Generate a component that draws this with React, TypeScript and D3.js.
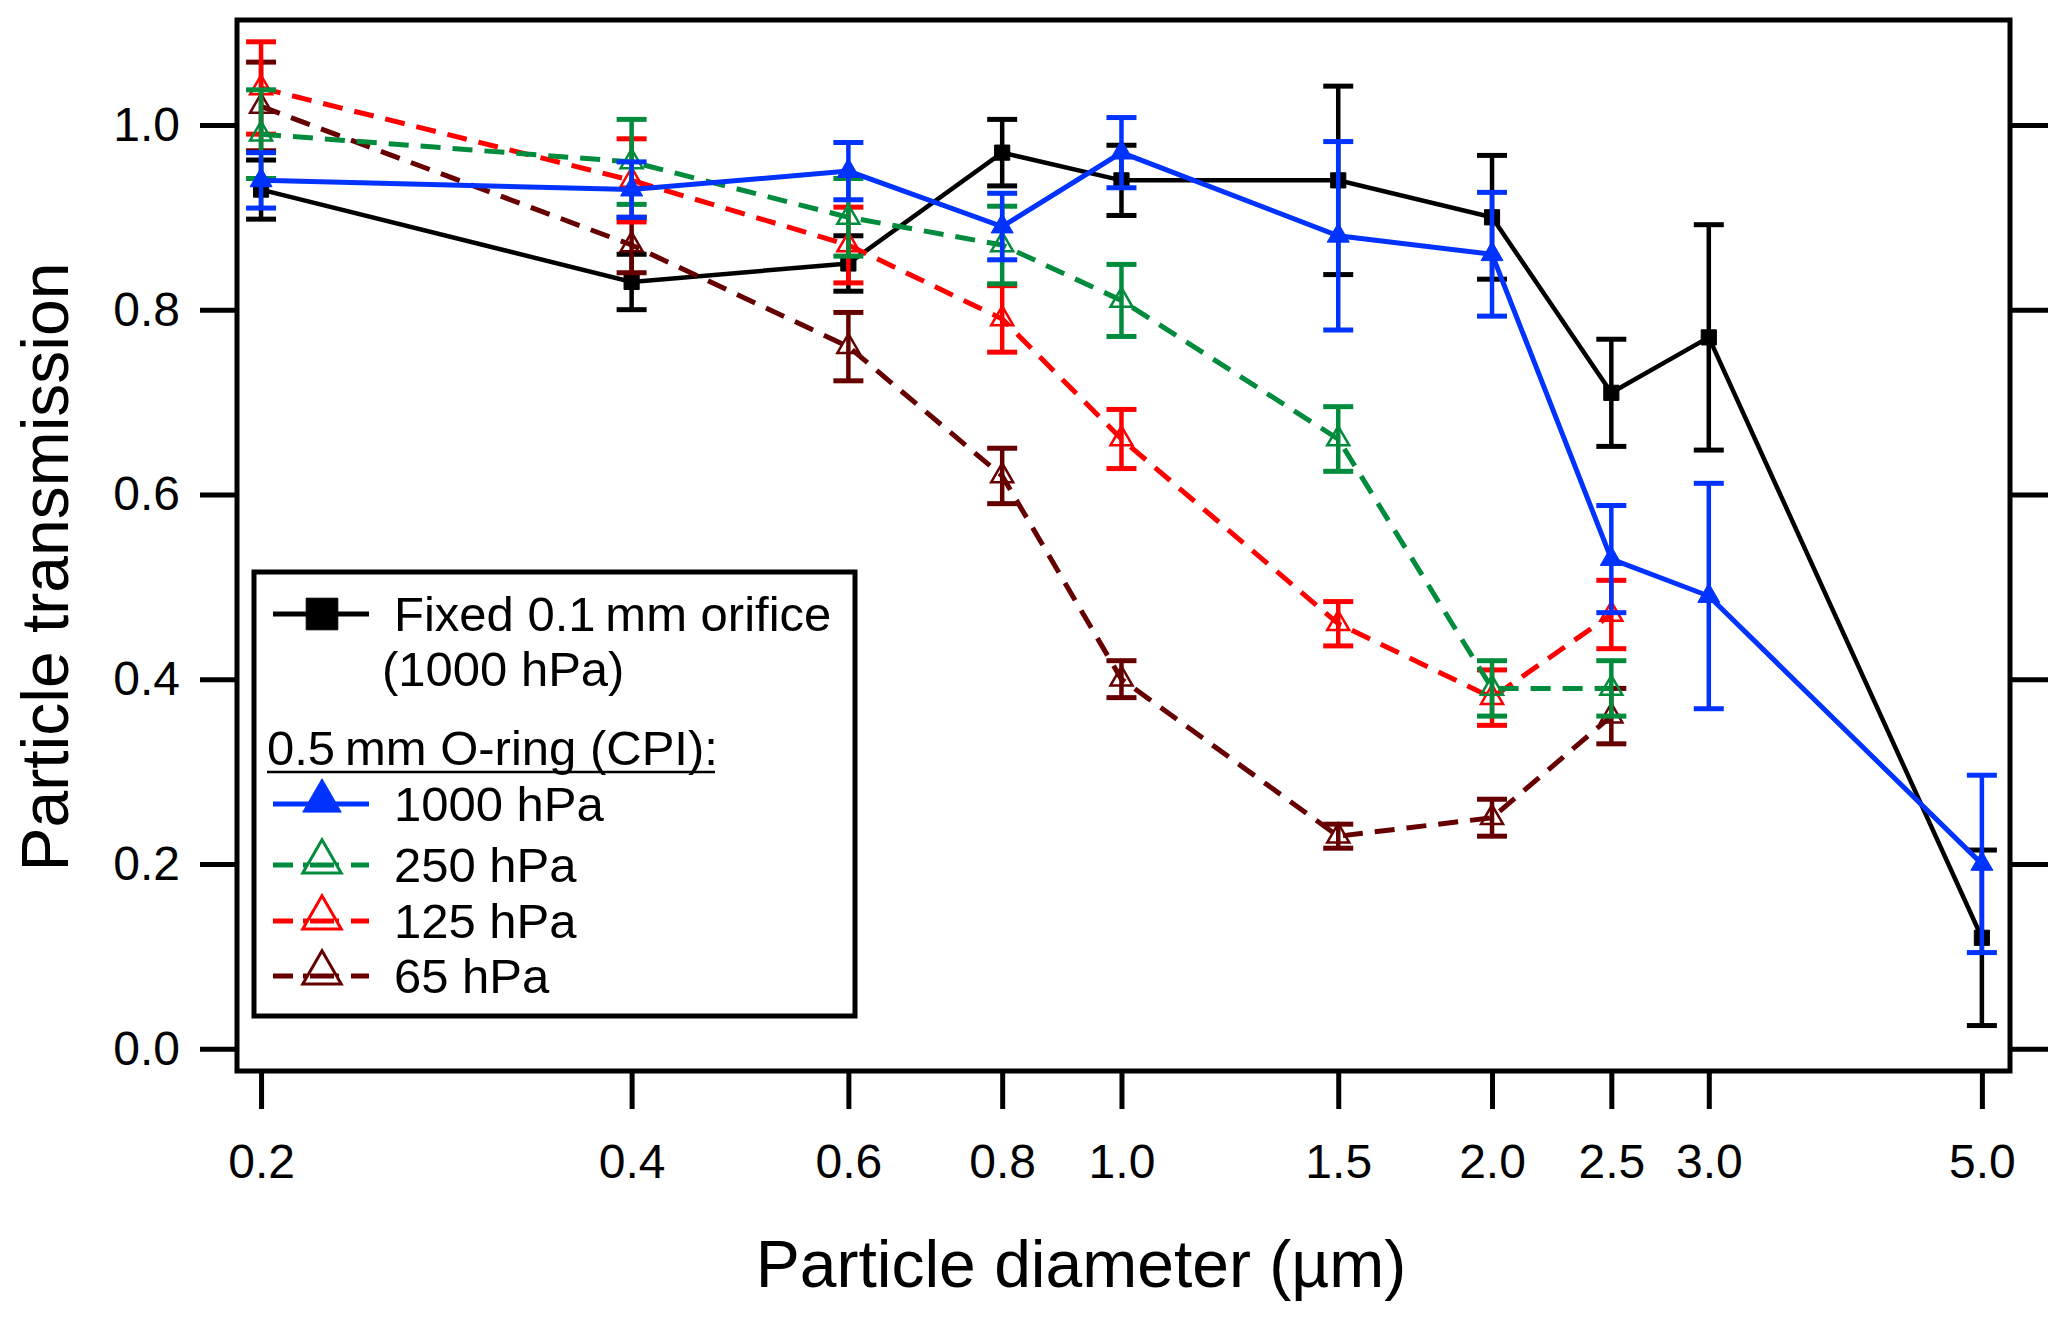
import React, { useEffect, useRef } from "react";
import * as d3 from "d3";

// particle diameters (µm)
const diam = [0.2, 0.4, 0.6, 0.8, 1.0, 1.5, 2.0, 2.5, 3.0, 5.0];
const diamCPI = [0.2, 0.4, 0.6, 0.8, 1.0, 1.5, 2.0, 2.5];

// fixed 0.1 mm orifice (1000 hPa)
const fixedVal = [0.93, 0.83, 0.85, 0.97, 0.94, 0.94, 0.9, 0.71, 0.77, 0.12];
const fixedErr = [0.032, 0.03, 0.03, 0.036, 0.038, 0.102, 0.067, 0.058, 0.122, 0.095];

// 0.5 mm O-ring (CPI)
const p1000Val = [0.94, 0.93, 0.95, 0.89, 0.97, 0.88, 0.86, 0.53, 0.49, 0.2];
const p1000Err = [0.03, 0.03, 0.031, 0.036, 0.038, 0.102, 0.067, 0.058, 0.122, 0.096];
const p250Val = [0.99, 0.96, 0.9, 0.87, 0.81, 0.66, 0.39, 0.39];
const p250Err = [0.048, 0.046, 0.042, 0.042, 0.039, 0.035, 0.03, 0.03];
const p125Val = [1.04, 0.94, 0.87, 0.79, 0.66, 0.46, 0.38, 0.47];
const p125Err = [0.05, 0.045, 0.041, 0.036, 0.032, 0.024, 0.03, 0.037];
const p65Val = [1.02, 0.87, 0.76, 0.62, 0.4, 0.23, 0.25, 0.36];
const p65Err = [0.048, 0.03, 0.037, 0.03, 0.02, 0.013, 0.02, 0.03];

const xTicks = [0.2, 0.4, 0.6, 0.8, 1.0, 1.5, 2.0, 2.5, 3.0, 5.0];
const yTicks = [0, 0.2, 0.4, 0.6, 0.8, 1.0];

type Series = {
  key: string;
  x: number[];
  v: number[];
  e: number[];
  color: string;
  dash: string | null;
  shape: "square" | "triangle";
  filled: boolean;
};

const series: Series[] = [
  { key: "fixed", x: diam, v: fixedVal, e: fixedErr, color: "#000000", dash: null, shape: "square", filled: true },
  { key: "65", x: diamCPI, v: p65Val, e: p65Err, color: "#660000", dash: "20,12", shape: "triangle", filled: false },
  { key: "125", x: diamCPI, v: p125Val, e: p125Err, color: "#ff0000", dash: "20,12", shape: "triangle", filled: false },
  { key: "250", x: diamCPI, v: p250Val, e: p250Err, color: "#008c3c", dash: "20,12", shape: "triangle", filled: false },
  { key: "1000", x: diam, v: p1000Val, e: p1000Err, color: "#0033ff", dash: null, shape: "triangle", filled: true },
];

const W = 2067;
const H = 1319;
const FONT = "'Liberation Sans', Arial, Helvetica, sans-serif";

export default function App() {
  const svgRef = useRef<SVGSVGElement>(null);

  useEffect(() => {
    const svg = d3.select(svgRef.current);
    svg.selectAll("*").remove();

    const left = 237, right = 2010, top = 20, bottom = 1071;
    const x = d3.scaleLog().domain([0.1912, 5.27]).range([left, right]);
    const y = d3.scaleLinear().domain([-0.0242, 1.1136]).range([bottom, top]);

    // axes
    const axL = svg.append("g").attr("transform", `translate(${left},0)`)
      .call(d3.axisLeft(y).tickValues(yTicks).tickSize(37).tickPadding(20).tickFormat(d3.format(".1f")));
    const axR = svg.append("g").attr("transform", `translate(${right},0)`)
      .call(d3.axisRight(y).tickValues(yTicks).tickSize(38).tickFormat(() => ""));
    const axB = svg.append("g").attr("transform", `translate(0,${bottom})`)
      .call(d3.axisBottom(x).tickValues(xTicks).tickSize(38).tickPadding(35).tickFormat(d3.format(".1f")));
    [axL, axR, axB].forEach((a) => {
      a.select(".domain").remove();
      a.selectAll("line").attr("stroke", "#000").attr("stroke-width", 5);
      a.selectAll("text").attr("font-family", FONT).attr("font-size", 48).attr("fill", "#000");
    });

    // frame
    svg.append("rect")
      .attr("x", left).attr("y", top)
      .attr("width", right - left).attr("height", bottom - top)
      .attr("fill", "none").attr("stroke", "#000").attr("stroke-width", 5);

    // titles
    svg.append("text")
      .attr("x", 1081).attr("y", 1287)
      .attr("text-anchor", "middle")
      .attr("font-family", FONT).attr("font-size", 66)
      .text("Particle diameter (µm)");
    svg.append("text")
      .attr("transform", `translate(68,567) rotate(-90)`)
      .attr("text-anchor", "middle")
      .attr("font-family", FONT).attr("font-size", 66)
      .text("Particle transmission");

    const sym = (s: Series, size: number) =>
      d3.symbol().type(s.shape === "square" ? d3.symbolSquare : d3.symbolTriangle).size(size)();

    const plot = svg.append("g");
    series.forEach((s) => {
      const g = plot.append("g");
      const pts = s.x.map((xv, i) => ({ x: xv, v: s.v[i], e: s.e[i] }));
      const line = d3.line<{ x: number; v: number }>().x((d) => x(d.x)).y((d) => y(d.v));
      g.append("path")
        .attr("d", line(pts))
        .attr("fill", "none")
        .attr("stroke", s.color)
        .attr("stroke-width", s.key === "fixed" ? 4.5 : 5)
        .attr("stroke-dasharray", s.dash);
      // error bars
      pts.forEach((d) => {
        const cx = x(d.x);
        g.append("line")
          .attr("x1", cx).attr("x2", cx)
          .attr("y1", y(d.v - d.e)).attr("y2", y(d.v + d.e))
          .attr("stroke", s.color).attr("stroke-width", 4.5);
        [d.v - d.e, d.v + d.e].forEach((c) => {
          g.append("line")
            .attr("x1", cx - 15).attr("x2", cx + 15)
            .attr("y1", y(c)).attr("y2", y(c))
            .attr("stroke", s.color).attr("stroke-width", 5);
        });
      });
      // markers
      g.selectAll("path.m")
        .data(pts)
        .enter()
        .append("path")
        .attr("class", "m")
        .attr("transform", (d) => `translate(${x(d.x)},${y(d.v)})`)
        .attr("d", sym(s, s.shape === "square" ? 230 : 210))
        .attr("fill", s.filled ? s.color : "none")
        .attr("stroke", s.color)
        .attr("stroke-width", s.filled ? 1 : 2.5);
    });

    // legend
    const lg = svg.append("g");
    lg.append("rect")
      .attr("x", 254).attr("y", 572).attr("width", 601).attr("height", 444)
      .attr("fill", "#fff").attr("stroke", "#000").attr("stroke-width", 5);

    const legendRows = [
      { s: series[0], y: 614, label: "Fixed 0.1\u2009mm orifice" },
      { s: series[4], y: 804, label: "1000 hPa" },
      { s: series[3], y: 865, label: "250 hPa" },
      { s: series[2], y: 921, label: "125 hPa" },
      { s: series[1], y: 976, label: "65 hPa" },
    ];
    legendRows.forEach((r) => {
      lg.append("line")
        .attr("x1", 273).attr("x2", 369).attr("y1", r.y).attr("y2", r.y)
        .attr("stroke", r.s.color).attr("stroke-width", 5)
        .attr("stroke-dasharray", r.s.dash ? "20,10,36,12,20" : null);
      lg.append("path")
        .attr("transform", `translate(322,${r.y - (r.s.shape === "triangle" ? 3 : 0)})`)
        .attr("d", sym(r.s, r.s.shape === "square" ? 1000 : 640))
        .attr("fill", r.s.filled ? r.s.color : "#fff")
        .attr("stroke", r.s.color)
        .attr("stroke-width", r.s.filled ? 1 : 3);
      if (!r.s.filled) {
        lg.append("line")
          .attr("x1", 310).attr("x2", 334).attr("y1", r.y).attr("y2", r.y)
          .attr("stroke", r.s.color).attr("stroke-width", 5);
      }
      lg.append("text")
        .attr("x", 394).attr("y", r.y + 17)
        .attr("font-family", FONT).attr("font-size", 49)
        .text(r.label);
    });
    lg.append("text")
      .attr("x", 382).attr("y", 686)
      .attr("font-family", FONT).attr("font-size", 49)
      .text("(1000 hPa)");
    lg.append("text")
      .attr("x", 267).attr("y", 765)
      .attr("font-family", FONT).attr("font-size", 49)
      .text("0.5\u2009mm O-ring (CPI):");
    lg.append("line")
      .attr("x1", 267).attr("x2", 715).attr("y1", 772).attr("y2", 772)
      .attr("stroke", "#000").attr("stroke-width", 2.5);
  }, []);

  return (
    <svg
      ref={svgRef}
      width={W}
      height={H}
      style={{ position: "absolute", left: 0, top: 0, background: "#fff" }}
    />
  );
}
